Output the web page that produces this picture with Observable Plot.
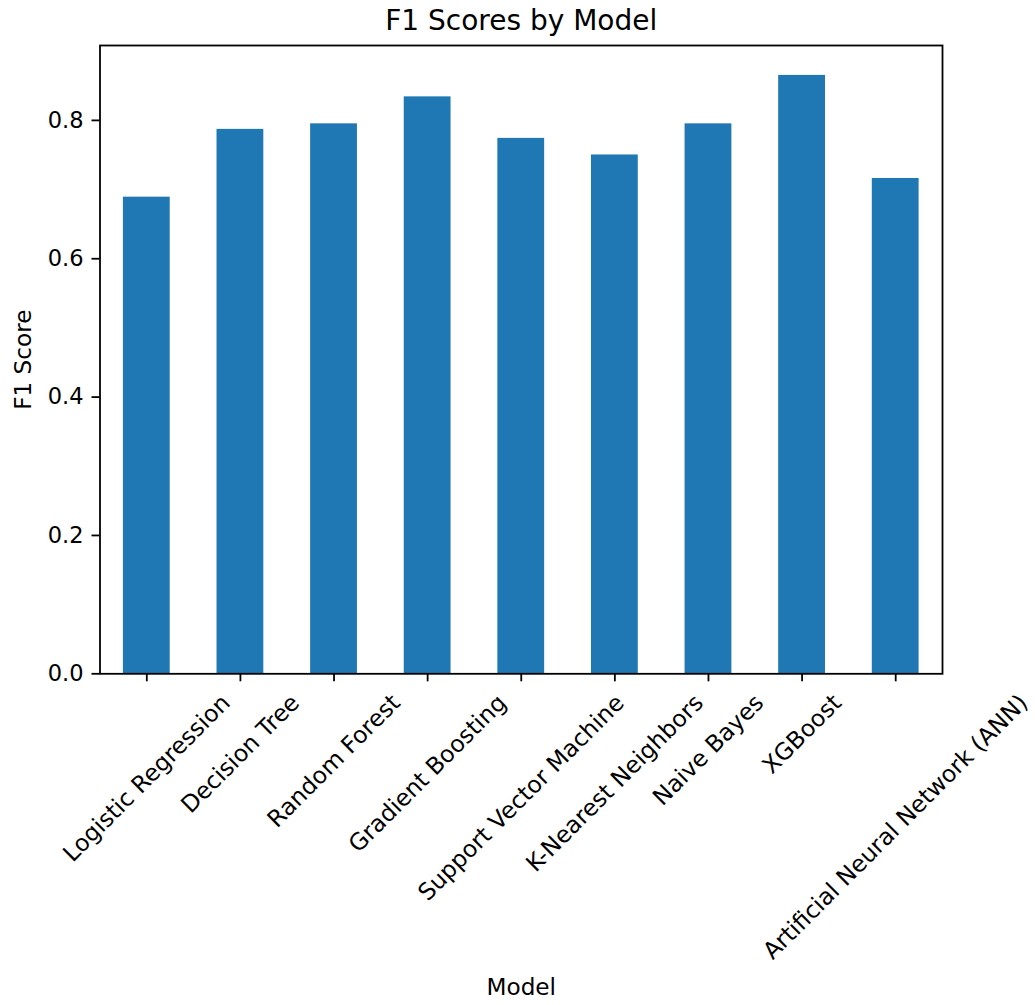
<!DOCTYPE html>
<html>
<head>
<meta charset="utf-8">
<script src="https://cdn.jsdelivr.net/npm/d3@7"></script>
<script src="https://cdn.jsdelivr.net/npm/@observablehq/plot@0.6"></script>
<style>
  html, body { margin: 0; padding: 0; background: #fff; }
  #chart { width: 1035px; height: 1005px; }
</style>
</head>
<body>
<div id="chart"></div>
<script>
const models = [
  "Logistic Regression",
  "Decision Tree",
  "Random Forest",
  "Gradient Boosting",
  "Support Vector Machine",
  "K-Nearest Neighbors",
  "Naive Bayes",
  "XGBoost",
  "Artificial Neural Network (ANN)"
];
const f1Scores = [0.689, 0.787, 0.795, 0.834, 0.774, 0.750, 0.795, 0.865, 0.716];
const yTicks = [0, 0.2, 0.4, 0.6, 0.8];
const titleText = "F1 Scores by Model";
const xLabel = "Model";
const yLabel = "F1 Score";

const data = models.map((m, i) => ({model: m, f1: f1Scores[i]}));

const FONT = "DejaVu Sans";
const TICK_FS = 22.5;
const XTICK_FS = 23.4;
const LABEL_FS = 23.2;
const TITLE_FS = 28;
const W = 1035, H = 1005;
const mL = 99.5, mR = 93, mT = 45, mB = 331.7;
const tickLen = 8, tickPad = 8.5;
const lw = 1.8;

// measure label widths for matplotlib-style centered rotated labels
const ctx = document.createElement("canvas").getContext("2d");
ctx.font = `${XTICK_FS}px "${FONT}"`;
const s45 = Math.SQRT1_2;
const labelMarks = models.map((m) => {
  const w = ctx.measureText(m).width;
  const h = 1.164 * XTICK_FS;
  const half = s45 * (w + h) / 2;
  return Plot.text([m], {
    x: (d) => d,
    frameAnchor: "bottom",
    rotate: -45,
    textAnchor: "middle",
    lineAnchor: "middle",
    dy: tickLen + 7.5 + half,
    fontSize: XTICK_FS,
    fontFamily: FONT,
    fill: "#000"
  });
});

const yMax = d3.max(f1Scores) * 1.05;

const chart = Plot.plot({
  width: W,
  height: H,
  marginLeft: mL,
  marginRight: mR,
  marginTop: mT,
  marginBottom: mB,
  style: {fontFamily: FONT, background: "#fff", color: "#000"},
  x: {domain: models, paddingInner: 0.5, paddingOuter: 0.25, align: 0.5, round: false},
  y: {domain: [0, yMax]},
  marks: [
    Plot.barY(data, {x: "model", y: "f1", fill: "#1f77b4"}),
    Plot.axisY({
      ticks: yTicks,
      tickFormat: d3.format(".1f"),
      tickSize: tickLen,
      tickPadding: tickPad,
      strokeWidth: lw,
      fontSize: TICK_FS,
      fontFamily: FONT,
      fill: "#000",
      stroke: "#000",
      label: null
    }),
    Plot.axisX({
      tickSize: tickLen,
      tickFormat: () => "",
      strokeWidth: lw,
      stroke: "#000",
      label: null
    }),
    ...labelMarks,
    Plot.frame({stroke: "#000", strokeWidth: lw}),
    Plot.text([titleText], {
      frameAnchor: "top",
      lineAnchor: "bottom",
      dy: -16,
      fontSize: TITLE_FS,
      fontFamily: FONT,
      fill: "#000"
    }),
    Plot.text([yLabel], {
      frameAnchor: "left",
      rotate: -90,
      textAnchor: "middle",
      lineAnchor: "middle",
      dx: 22.8 - mL,
      fontSize: LABEL_FS,
      fontFamily: FONT,
      fill: "#000"
    }),
    Plot.text([xLabel], {
      frameAnchor: "bottom",
      lineAnchor: "bottom",
      dy: 994 - (H - mB),
      fontSize: LABEL_FS,
      fontFamily: FONT,
      fill: "#000"
    })
  ]
});
document.getElementById("chart").appendChild(chart);
</script>
</body>
</html>
